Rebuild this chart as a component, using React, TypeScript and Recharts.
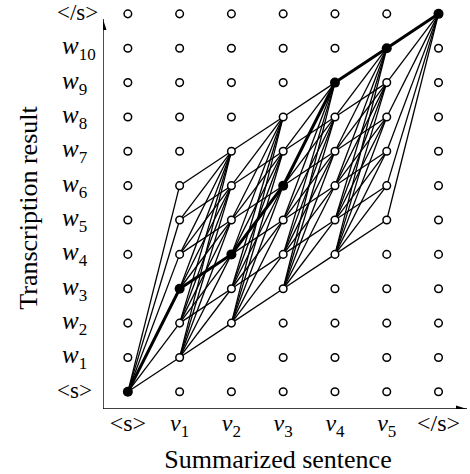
import { Scatter, ScatterChart, XAxis, YAxis } from "recharts";

const xLabels = ["<s>", "v1", "v2", "v3", "v4", "v5", "</s>"];
const yLabels = ["<s>", "w1", "w2", "w3", "w4", "w5", "w6", "w7", "w8", "w9", "w10", "</s>"];

// lowest / highest transcription row reachable at each summary column
const bandLow = [0, 1, 2, 3, 4, 5, 11];
const bandHigh = [0, 6, 7, 8, 9, 10, 11];

// the selected alignment (row index per column)
const bestPath = [0, 3, 4, 6, 9, 10, 11];

const xDomain: [number, number] = [-0.48, 6.55];
const yDomain: [number, number] = [-0.5, 11.2];
const yArrowTop = 10.85;

const font = "'Liberation Serif', 'DejaVu Serif', serif";

type Pt = { x: number; y: number };

const gridPoints: Pt[] = [];
xLabels.forEach((_, c) => {
  yLabels.forEach((__, r) => gridPoints.push({ x: c, y: r }));
});

const edges: Pt[][] = [];
for (let c = 0; c < xLabels.length - 1; c++) {
  for (let j = bandLow[c]; j <= bandHigh[c]; j++) {
    for (let k = bandLow[c + 1]; k <= bandHigh[c + 1]; k++) {
      if (k > j) edges.push([{ x: c, y: j }, { x: c + 1, y: k }]);
    }
  }
}

const pathPoints: Pt[] = bestPath.map((r, c) => ({ x: c, y: r }));

const isOnPath = (p: Pt) => bestPath[p.x] === p.y;

function renderLabel(label: string, small: number) {
  const m = label.match(/^([vw])(\d+)$/);
  if (!m) return label;
  return (
    <>
      <tspan fontStyle="italic">{m[1]}</tspan>
      <tspan fontSize={small} dy={6}>
        {m[2]}
      </tspan>
    </>
  );
}

function renderXTick(props: { x?: number; y?: number; payload?: { value?: number } }) {
  const { x = 0, payload } = props;
  const label = xLabels[Number(payload?.value ?? 0)];
  return (
    <text x={x} y={431} textAnchor="middle" fontFamily={font} fontSize={24} fill="#000">
      {renderLabel(label, 17)}
    </text>
  );
}

function renderYTick(props: { x?: number; y?: number; payload?: { value?: number } }) {
  const { y = 0, payload } = props;
  const label = yLabels[Number(payload?.value ?? 0)];
  const isWord = label.startsWith("w");
  return (
    <text x={isWord ? 62 : 57} y={y + 6} textAnchor="start" fontFamily={font} fontSize={isWord ? 25 : 23} fill="#000">
      {renderLabel(label, 17)}
    </text>
  );
}

function NodeShape(props: { cx?: number; cy?: number; payload?: Pt }) {
  const { cx = 0, cy = 0, payload } = props;
  if (payload && isOnPath(payload)) {
    return <circle cx={cx} cy={cy} r={5} fill="#000" />;
  }
  return <circle cx={cx} cy={cy} r={3.8} fill="#fff" stroke="#000" strokeWidth={1.5} />;
}

const noShape = () => <g />;

function ArrowUp(props: { cx?: number; cy?: number }) {
  const { cx = 0, cy = 0 } = props;
  return <polygon points={`${cx},${cy} ${cx - 3.5},${cy + 11} ${cx + 3.5},${cy + 11}`} fill="#000" />;
}

function ArrowRight(props: { cx?: number; cy?: number }) {
  const { cx = 0, cy = 0 } = props;
  return <polygon points={`${cx},${cy} ${cx - 11},${cy - 3.5} ${cx - 11},${cy + 3.5}`} fill="#000" />;
}

export default function App() {
  const origin = { x: xDomain[0], y: yDomain[0] };
  return (
    <div style={{ position: "absolute", left: 0, top: 0, width: 470, height: 474, background: "#fff" }}>
      <ScatterChart width={470} height={474} margin={{ top: 7, right: 3, bottom: 0, left: 0 }}>
        <XAxis
          type="number"
          dataKey="x"
          domain={xDomain}
          ticks={[0, 1, 2, 3, 4, 5, 6]}
          interval={0}
          axisLine={false}
          tickLine={false}
          tick={renderXTick}
          height={65}
          allowDataOverflow
        />
        <YAxis
          type="number"
          dataKey="y"
          domain={yDomain}
          ticks={[0, 1, 2, 3, 4, 5, 6, 7, 8, 9, 10, 11]}
          interval={0}
          axisLine={false}
          tickLine={false}
          tick={renderYTick}
          width={103}
          allowDataOverflow
        />
        <Scatter
          data={[origin, { x: xDomain[0], y: yArrowTop }]}
          line={{ stroke: "#000", strokeWidth: 1.4 }}
          shape={noShape}
          isAnimationActive={false}
        />
        <Scatter
          data={[origin, { x: xDomain[1], y: yDomain[0] }]}
          line={{ stroke: "#000", strokeWidth: 1.4 }}
          shape={noShape}
          isAnimationActive={false}
        />
        <Scatter data={[{ x: xDomain[0], y: yArrowTop }]} shape={ArrowUp} isAnimationActive={false} />
        <Scatter data={[{ x: xDomain[1], y: yDomain[0] }]} shape={ArrowRight} isAnimationActive={false} />
        {edges.map((e, i) => (
          <Scatter
            key={`edge-${i}`}
            data={e}
            line={{ stroke: "#000", strokeWidth: 1.3 }}
            shape={noShape}
            isAnimationActive={false}
          />
        ))}
        <Scatter data={pathPoints} line={{ stroke: "#000", strokeWidth: 3 }} shape={noShape} isAnimationActive={false} />
        <Scatter data={gridPoints} shape={NodeShape} isAnimationActive={false} />
        <text x={278} y={468} textAnchor="middle" fontFamily={font} fontSize={26} fill="#000">
          Summarized sentence
        </text>
        <text
          x={37}
          y={208}
          transform="rotate(-90 37 208)"
          textAnchor="middle"
          fontFamily={font}
          fontSize={26}
          fill="#000"
        >
          Transcription result
        </text>
      </ScatterChart>
    </div>
  );
}
